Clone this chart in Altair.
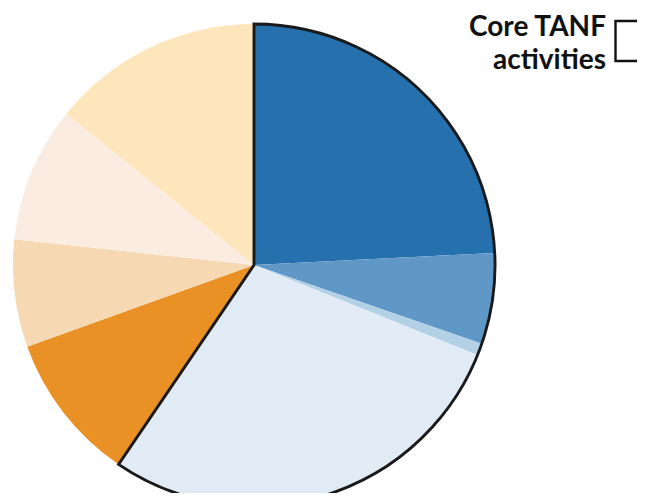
import altair as alt
import pandas as pd

# Slice data (percent of total), clockwise from 12 o'clock
categories = ["Core 1", "Core 2", "Core 3", "Core 4", "Other 1", "Other 2", "Other 3", "Other 4"]
values = [24.2, 6.1, 0.8, 28.4, 10.0, 7.2, 9.1, 14.2]
groups = ["Core", "Core", "Core", "Core", "Other", "Other", "Other", "Other"]
colors = ["#2570ad", "#5f98c6", "#b3d1e6", "#e1ebf5", "#ea9126", "#f6d8b3", "#faece0", "#fde6bb"]
legend_label = ["Core TANF", "activities"]

df = pd.DataFrame({"category": categories, "value": values, "group": groups,
                   "idx": list(range(len(categories)))})
gdf = df.groupby("group", sort=False, as_index=False)["value"].sum()
gdf["gidx"] = range(len(gdf))

CX, CY, R = 246, 257, 241

slices = alt.Chart(df).mark_arc(radius=R, stroke=None).encode(
    theta=alt.Theta("value:Q", stack=True),
    order=alt.Order("idx:Q"),
    color=alt.Color("category:N", scale=alt.Scale(domain=categories, range=colors), legend=None),
    x=alt.value(CX), y=alt.value(CY),
)

outline = alt.Chart(gdf).mark_arc(radius=R, fillOpacity=0, stroke="#1a1a1a", strokeWidth=2.9,
                                 strokeJoin="miter").encode(
    theta=alt.Theta("value:Q", stack=True),
    order=alt.Order("gidx:Q"),
    strokeOpacity=alt.condition(alt.datum.group == "Core", alt.value(1), alt.value(0)),
    x=alt.value(CX), y=alt.value(CY),
)

legend_text = alt.Chart(pd.DataFrame({"t": [0]})).mark_text(
    text=legend_label, align="right", baseline="alphabetic", font="Lato", fontWeight="bold",
    fontSize=28, lineHeight=33, color="#111111"
).encode(x=alt.value(598), y=alt.value(28))

legend_box = alt.Chart(pd.DataFrame({"t": [0]})).mark_rect(
    fill="white", stroke="#111111", strokeWidth=2.4
).encode(x=alt.value(607.5), x2=alt.value(660), y=alt.value(13), y2=alt.value(53))

chart = alt.layer(slices, outline, legend_text, legend_box).properties(
    width=629, height=485, autosize="none", padding=0
).configure_view(stroke=None)

chart.save("out.html", embed_options={"renderer": "svg", "actions": False})
